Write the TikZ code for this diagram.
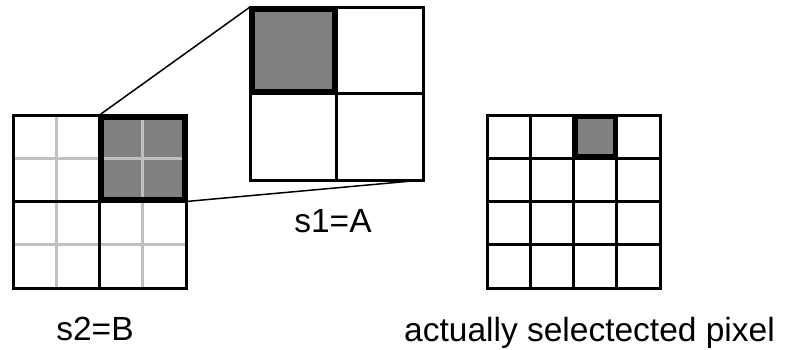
\documentclass[tikz,border=0pt]{standalone}
\usepackage{fontspec}
\setmainfont{Liberation Sans}
\tikzset{
  gridline/.style={line width=3pt, line cap=rect},
  subline/.style={line width=3pt, draw=lightgrid},
  zoomline/.style={line width=1.5pt},
  lbl/.style={font=\fontsize{33.5}{40}\selectfont, inner sep=0pt}
}
\definecolor{lightgrid}{HTML}{C0C0C0}
\definecolor{selgray}{HTML}{808080}
\begin{document}
\begin{tikzpicture}[x=1pt,y=-1pt]
\useasboundingbox (0,0) rectangle (786,349);
% ---- left grid (s2=B) ----
\fill[selgray] (99.5,115) rectangle (186,201.5);
\foreach \v in {56.25,142.75} {
  \draw[subline] (\v,115) -- (\v,288);
  \draw[subline] (13,\v+102) -- (186,\v+102);
}
\draw[gridline] (13,115) rectangle (186,288);
\draw[gridline] (99.5,115) -- (99.5,288);
\draw[gridline] (13,201.5) -- (186,201.5);
\draw[line width=6pt] (101,116.5) rectangle (184.5,200);
\coordinate (qnw) at (99.5,115);
\coordinate (qse) at (186,201.5);
% ---- top grid (s1=A) ----
\fill[selgray] (250,7) rectangle (336.5,93.5);
\draw[gridline] (250,7) rectangle (423,180);
\draw[gridline] (336.5,7) -- (336.5,180);
\draw[gridline] (250,93.5) -- (423,93.5);
\draw[line width=6pt] (251.5,8.5) rectangle (335,92);
\coordinate (bnw) at (250,7);
\coordinate (bse) at (423,180);
% ---- zoom lines ----
\draw[zoomline] (qnw) -- (bnw);
\draw[zoomline] (qse) -- (bse);
% ---- right grid ----
\fill[selgray] (573.5,115) rectangle (616.75,158.25);
\foreach \i in {1,2,3} {
  \draw[gridline] (487+\i*43.25,115) -- (487+\i*43.25,288);
  \draw[gridline] (487,115+\i*43.25) -- (660,115+\i*43.25);
}
\draw[gridline] (487,115) rectangle (660,288);
\draw[line width=5pt] (575,116.5) rectangle (615.25,156.75);
% ---- labels ----
\node[lbl, anchor=base] (s1) at (333,232) {s1=A};
\node[lbl, anchor=base] (s2) at (95,340) {s2=B};
\node[lbl, anchor=base] (act) at (589.5,341) {actually selectected pixel};
\end{tikzpicture}
\end{document}
